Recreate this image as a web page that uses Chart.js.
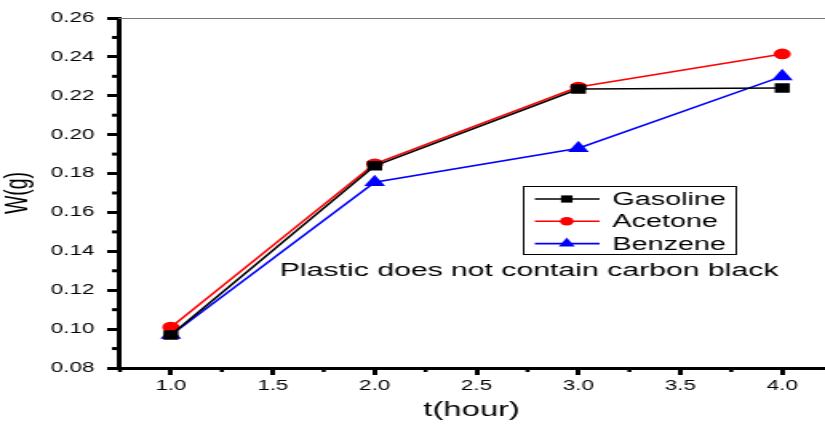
<!DOCTYPE html>
<html><head><meta charset="utf-8">
<script src="https://cdn.jsdelivr.net/npm/chart.js@4/dist/chart.umd.min.js"></script>
<style>
html,body{margin:0;padding:0;background:#fff;overflow:hidden}
#wrap{width:516px;height:428px;position:relative;transform:scaleX(1.59884);transform-origin:0 0}
</style>
</head><body><div id="wrap"><canvas id="c" width="516" height="428" style="width:516px;height:428px"></canvas></div>
<script>
const hours = [1.0, 2.0, 3.0, 4.0];
const gasoline = [0.097, 0.184, 0.2235, 0.224];
const acetone = [0.101, 0.185, 0.2245, 0.2415];
const benzene = [0.097, 0.1755, 0.193, 0.230];
const xTicks = [1.0, 1.5, 2.0, 2.5, 3.0, 3.5, 4.0];
const yTicks = [0.08, 0.10, 0.12, 0.14, 0.16, 0.18, 0.20, 0.22, 0.24, 0.26];
const xMinor = [0.75, 1.25, 1.75, 2.25, 2.75, 3.25, 3.75];
const yMinor = [0.09, 0.11, 0.13, 0.15, 0.17, 0.19, 0.21, 0.23, 0.25];
const seriesNames = ['Gasoline', 'Acetone', 'Benzene'];
const note = 'Plastic does not contain carbon black';

const FONT = '"Liberation Sans", Arial, sans-serif';
const mk = (arr) => hours.map((h, i) => ({x: h, y: arr[i]}));

const extras = {
  id: 'extras',
  afterDraw(chart) {
    const ctx = chart.ctx, xs = chart.scales.x, ys = chart.scales.y, ca = chart.chartArea;
    ctx.save();
    // top border
    ctx.strokeStyle = '#777'; ctx.lineWidth = 1;
    ctx.beginPath(); ctx.moveTo(ca.left, ca.top + 0.5); ctx.lineTo(ca.right, ca.top + 0.5); ctx.stroke();
    // minor ticks
    ctx.strokeStyle = '#000'; ctx.lineWidth = 3;
    yMinor.forEach(v => { const p = ys.getPixelForValue(v); ctx.beginPath(); ctx.moveTo(ca.left - 4, p); ctx.lineTo(ca.left, p); ctx.stroke(); });
    ctx.lineWidth = 2.5;
    xMinor.forEach(v => { const p = xs.getPixelForValue(v); ctx.beginPath(); ctx.moveTo(p, ca.bottom); ctx.lineTo(p, ca.bottom + 4); ctx.stroke(); });
    // legend
    const bx = 327, by = 186, bw = 133, bh = 68;
    ctx.lineWidth = 1; ctx.strokeStyle = '#000';
    ctx.strokeRect(bx + 0.5, by + 0.5, bw, bh);
    ctx.font = '18px ' + FONT; ctx.textBaseline = 'middle'; ctx.textAlign = 'left';
    chart.data.datasets.forEach((ds, i) => {
      const cy = by + 13 + i * 22.3;
      ctx.strokeStyle = ds.borderColor; ctx.lineWidth = 1.6;
      ctx.beginPath(); ctx.moveTo(bx + 7.5, cy); ctx.lineTo(bx + 48, cy); ctx.stroke();
      ctx.fillStyle = ds.backgroundColor;
      const mx = bx + 27.5;
      if (ds.pointStyle === 'rect') ctx.fillRect(mx - 3.6, cy - 3.6, 7.2, 7.2);
      else if (ds.pointStyle === 'circle') { ctx.beginPath(); ctx.arc(mx, cy, 4.3, 0, Math.PI * 2); ctx.fill(); }
      else { ctx.beginPath(); ctx.moveTo(mx, cy - 6); ctx.lineTo(mx + 5, cy + 3); ctx.lineTo(mx - 5, cy + 3); ctx.closePath(); ctx.fill(); }
      ctx.fillStyle = '#000';
      ctx.fillText(ds.label, bx + 56, cy + 1);
    });
    // note
    ctx.font = '18.9px ' + FONT; ctx.textAlign = 'left'; ctx.fillStyle = '#000';
    ctx.fillText(note, 175, 271);
    ctx.restore();
  }
};

new Chart(document.getElementById('c'), {
  type: 'line',
  data: {
    datasets: [
      {label: seriesNames[0], data: mk(gasoline), borderColor: '#000', backgroundColor: '#000', pointStyle: 'rect', pointRadius: 5.5, borderWidth: 1.6},
      {label: seriesNames[1], data: mk(acetone), borderColor: '#ff0000', backgroundColor: '#ff0000', pointStyle: 'circle', pointRadius: 4.6, borderWidth: 1.6},
      {label: seriesNames[2], data: mk(benzene), borderColor: '#0000ff', backgroundColor: '#0000ff', pointStyle: 'triangle', pointRadius: 6, borderWidth: 1.6}
    ]
  },
  options: {
    responsive: false, animation: false, devicePixelRatio: 1,
    layout: {autoPadding: false, padding: {top: 18, right: 0, left: 0, bottom: 0}},
    plugins: {legend: {display: false}, tooltip: {enabled: false}},
    elements: {line: {tension: 0}, point: {borderWidth: 0}},
    scales: {
      x: {
        type: 'linear', min: 0.742, max: 4.21,
        afterBuildTicks: (s) => { s.ticks = xTicks.map(v => ({value: v})); },
        afterFit: (s) => { s.height = 60; },
        border: {display: true, color: '#000', width: 3},
        grid: {display: true, drawOnChartArea: false, drawTicks: true, tickLength: 7, color: '#000', lineWidth: 3},
        ticks: {color: '#000', font: {family: FONT, size: 14}, padding: 3, callback: (v) => v.toFixed(1), maxRotation: 0},
        title: {display: true, text: 't(hour)', color: '#000', font: {family: FONT, size: 20.5}, padding: {top: 0, bottom: 5}}
      },
      y: {
        min: 0.08, max: 0.26,
        afterBuildTicks: (s) => { s.ticks = yTicks.map(v => ({value: v})); },
        afterFit: (s) => { s.width = 74; },
        border: {display: true, color: '#000', width: 3},
        grid: {display: true, drawOnChartArea: false, drawTicks: true, tickLength: 7, color: '#000', lineWidth: 3},
        ticks: {color: '#000', font: {family: FONT, size: 14}, padding: 8, callback: (v) => v.toFixed(2)},
        title: {display: true, text: 'W(g)', color: '#000', font: {family: FONT, size: 19.5}, padding: {top: 0, bottom: 8}}
      }
    }
  },
  plugins: [extras]
});
</script></body></html>
